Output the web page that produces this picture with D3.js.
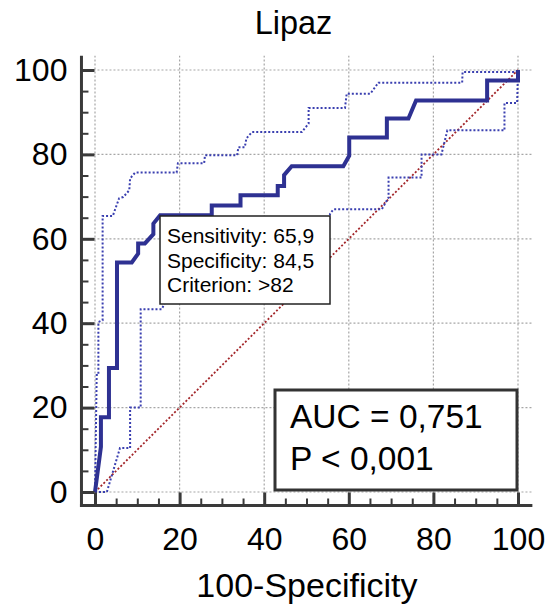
<!DOCTYPE html>
<html>
<head>
<meta charset="utf-8">
<script src="https://cdn.jsdelivr.net/npm/d3@7"></script>
<style>
  body { margin: 0; background: #fff; }
  svg { display: block; font-family: "Liberation Sans", Arial, sans-serif; }
</style>
</head>
<body>
<div id="chart"></div>
<script>
// ROC curve for Lipaz: [100-Specificity, Sensitivity]
const rocPoints = [
  [0, 0], [1.4, 10.7], [1.4, 17.7], [3.3, 17.7], [3.3, 29.4], [5.2, 29.4],
  [5.2, 54.4], [8.7, 54.4], [10.2, 56.5], [10.2, 58.9], [11.8, 58.9],
  [13.8, 61.1], [13.8, 63.6], [15.4, 65.6], [27.6, 65.6], [27.6, 67.9],
  [34.4, 67.9], [34.4, 70.3], [43.2, 70.3], [43.2, 72.5], [44.7, 72.5],
  [44.7, 75.1], [46.5, 77.2], [58.7, 77.2], [60.1, 79.7], [60.1, 84.0],
  [69.0, 84.0], [69.0, 88.5], [74.1, 88.5], [75.9, 92.8], [92.7, 92.8],
  [92.7, 97.5], [100, 97.5], [100, 100]
];
const upperCI = [
  [0, 0], [0.4, 27.7], [0.8, 27.7], [0.8, 40.3], [1.8, 40.7], [1.8, 65.4],
  [4.2, 65.4], [5.7, 69.6], [6.7, 69.9], [8.1, 71.5], [8.3, 74.3], [9.5, 75.7],
  [19.3, 75.7], [19.6, 77.9], [25.8, 77.9], [26.0, 79.8], [33.6, 79.8],
  [33.9, 81.7], [35.4, 81.7], [35.8, 83.8], [37.1, 85.3], [48.9, 85.3],
  [50.5, 87.3], [50.5, 91.0], [59.1, 91.0], [59.5, 94.4], [65.1, 94.4],
  [67.0, 97.0], [86.8, 97.0], [86.9, 99.5], [99.4, 99.5], [100, 100]
];
const lowerCI = [
  [0, 0], [2.8, 0], [5.9, 10.4], [8.3, 10.4], [8.3, 20.0], [10.8, 20.0],
  [10.8, 43.3], [15.8, 43.3], [16.6, 45.1], [19.7, 45.1], [21.1, 47.6],
  [26.8, 47.6], [28.2, 50.0], [33.8, 50.0], [35.2, 54.8], [42.3, 54.8],
  [43.7, 59.6], [49.3, 59.6], [50.7, 62.0], [54.9, 62.0], [55.6, 66.0],
  [56.4, 67.0], [67.8, 67.0], [69.4, 69.8], [69.4, 74.5], [77.2, 74.5],
  [77.2, 80.0], [81.9, 80.0], [83.3, 85.7], [96.8, 85.7], [96.8, 92.2],
  [99.8, 92.2], [100, 100]
];
const refLine = [[0, 0], [100, 100]];
const majorTicks = [0, 20, 40, 60, 80, 100];
const minorTicks = d3.range(0, 101, 5).filter(v => v % 20 !== 0);
const annotationLines = ["Sensitivity: 65,9", "Specificity: 84,5", "Criterion: >82"];
const statLines = ["AUC = 0,751", "P < 0,001"];

const W = 547, H = 608;
const svg = d3.select("#chart").append("svg").attr("width", W).attr("height", H);

const x = d3.scaleLinear().domain([0, 100]).range([95, 518]);
const y = d3.scaleLinear().domain([0, 100]).range([492, 70]);
const lo = -3.2, hi = 103.4;   // visual frame extent

// grid
const grid = svg.append("g").attr("stroke", "#a6a6a6").attr("stroke-width", 1.2)
  .attr("stroke-dasharray", "2,2");
grid.selectAll(".gx").data(majorTicks).join("line")
  .attr("x1", d => x(d)).attr("x2", d => x(d))
  .attr("y1", y(lo)).attr("y2", y(hi));
grid.selectAll(".gy").data(majorTicks).join("line")
  .attr("y1", d => y(d)).attr("y2", d => y(d))
  .attr("x1", x(lo)).attr("x2", x(hi));

const line = d3.line().x(d => x(d[0])).y(d => y(d[1]));

svg.append("path").datum(refLine).attr("d", line)
  .attr("fill", "none").attr("stroke", "#a3262a").attr("stroke-width", 1.8)
  .attr("stroke-dasharray", "2,2");

[upperCI, lowerCI].forEach(ci => {
  svg.append("path").datum(ci).attr("d", line)
    .attr("fill", "none").attr("stroke", "#3a3fb0").attr("stroke-width", 2)
    .attr("stroke-dasharray", "2,2");
});

svg.append("path").datum(rocPoints).attr("d", line)
  .attr("fill", "none").attr("stroke", "#2e3192").attr("stroke-width", 4)
  .attr("stroke-linejoin", "miter");

// criterion annotation
const ann = svg.append("g");
ann.append("rect").attr("x", 160).attr("y", 216).attr("width", 170).attr("height", 88)
  .attr("fill", "#fff").attr("stroke", "#222").attr("stroke-width", 1.5);
ann.selectAll("text").data(annotationLines).join("text")
  .attr("x", 167).attr("y", (d, i) => 243 + i * 24.5)
  .attr("font-size", 21).attr("fill", "#000").text(d => d);

// AUC box
const stat = svg.append("g");
stat.append("rect").attr("x", 275).attr("y", 390).attr("width", 242).attr("height", 100)
  .attr("fill", "#fff").attr("stroke", "#333").attr("stroke-width", 3);
stat.selectAll("text").data(statLines).join("text")
  .attr("x", 290).attr("y", (d, i) => 428 + i * 42)
  .attr("font-size", 33.5).attr("fill", "#000").text(d => d);

// axes
const axisColor = "#3a3a3a";
const yAxis = svg.append("g").attr("transform", `translate(${x(lo)},0)`);
yAxis.call(d3.axisLeft(y).tickValues(majorTicks).tickSizeInner(-13).tickSizeOuter(0).tickPadding(14));
yAxis.append("g").call(d3.axisLeft(y).tickValues(minorTicks).tickSizeInner(-7).tickSizeOuter(0).tickFormat(""));
const xAxis = svg.append("g").attr("transform", `translate(0,${y(lo)})`);
xAxis.call(d3.axisBottom(x).tickValues(majorTicks).tickSizeInner(-13).tickSizeOuter(0).tickPadding(16));
xAxis.append("g").call(d3.axisBottom(x).tickValues(minorTicks).tickSizeInner(-7).tickSizeOuter(0).tickFormat(""));

svg.selectAll(".domain").remove();
svg.selectAll(".tick line").attr("stroke", axisColor).attr("stroke-width", 3);
svg.selectAll(".tick text").attr("font-size", 32).attr("fill", "#000")
  .attr("font-family", "Liberation Sans, Arial, sans-serif");
xAxis.selectAll(".tick text").attr("dy", "0.9em");
yAxis.selectAll(".tick line").filter(d => minorTicks.includes(d)).attr("stroke-width", 2);
xAxis.selectAll(".tick line").filter(d => minorTicks.includes(d)).attr("stroke-width", 2);

svg.append("line").attr("x1", x(lo)).attr("x2", x(lo)).attr("y1", y(lo) + 1.5).attr("y2", y(hi))
  .attr("stroke", axisColor).attr("stroke-width", 3);
svg.append("line").attr("x1", x(lo) - 1.5).attr("x2", x(hi)).attr("y1", y(lo)).attr("y2", y(lo))
  .attr("stroke", axisColor).attr("stroke-width", 3);

// titles
svg.append("text").attr("x", 293.5).attr("y", 34).attr("text-anchor", "middle")
  .attr("font-size", 32.5).text("Lipaz");
svg.append("text").attr("x", (x(lo) + x(hi)) / 2).attr("y", 597).attr("text-anchor", "middle")
  .attr("font-size", 34).text("100-Specificity");
</script>
</body>
</html>
